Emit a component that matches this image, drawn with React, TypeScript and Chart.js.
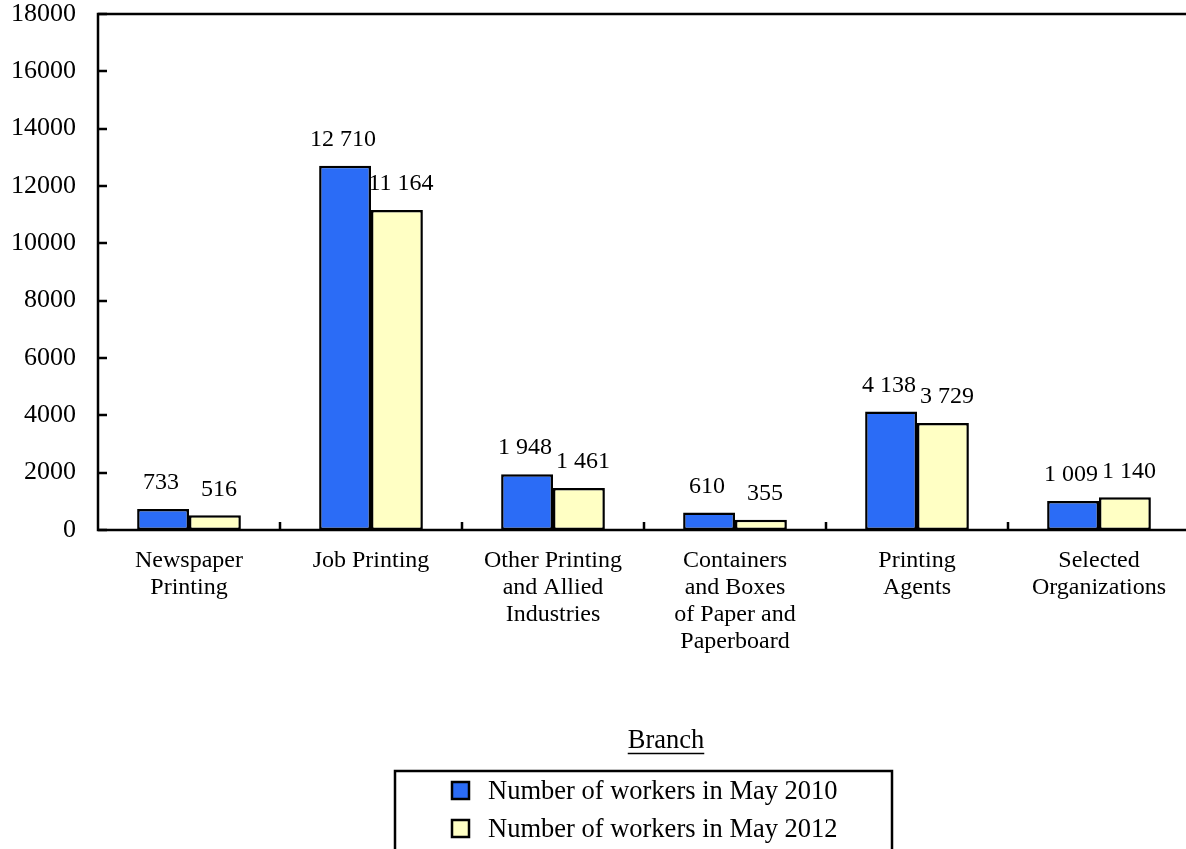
import React, { useEffect, useRef } from "react";
import { Chart, registerables } from "chart.js";

Chart.register(...registerables);

// Branch names (one array entry per line of the axis label)
const branches: string[][] = [
  ["Newspaper", "Printing"],
  ["Job Printing"],
  ["Other Printing", "and Allied", "Industries"],
  ["Containers", "and Boxes", "of Paper and", "Paperboard"],
  ["Printing", "Agents"],
  ["Selected", "Organizations"],
];

const workers2010: number[] = [733, 12710, 1948, 610, 4138, 1009];
const workers2012: number[] = [516, 11164, 1461, 355, 3729, 1140];

const seriesLabels: string[] = [
  "Number of workers in May 2010",
  "Number of workers in May 2012",
];

const legendTitle = "Branch";

const yMin = 0;
const yMax = 18000;
const yStep = 2000;

const BLUE = "#2B6CF6";
const YELLOW = "#FFFFC4";
const FONT = "'Liberation Serif', 'Times New Roman', serif";

const fmt = (v: number) => String(v).replace(/\B(?=(\d{3})+(?!\d))/g, " ");

// Axis decorations, value labels and the boxed legend below the plot
const decorations = {
  id: "decorations",
  afterDatasetsDraw(chart: any) {
    const { ctx, chartArea } = chart;
    const { left, top, bottom } = chartArea;
    const x = chart.scales.x;
    const y = chart.scales.y;
    ctx.save();
    ctx.strokeStyle = "#000";
    ctx.lineWidth = 2.5;
    ctx.lineCap = "square";

    // frame: left axis, top border, baseline
    ctx.beginPath();
    ctx.moveTo(left, bottom);
    ctx.lineTo(left, top);
    ctx.lineTo(chart.width + 10, top);
    ctx.moveTo(left, bottom);
    ctx.lineTo(chart.width + 10, bottom);
    ctx.stroke();

    // inward ticks on the value axis
    ctx.lineCap = "butt";
    ctx.beginPath();
    for (let v = yMin; v <= yMax; v += yStep) {
      const py = Math.round(y.getPixelForValue(v));
      ctx.moveTo(left, py);
      ctx.lineTo(left + 9, py);
    }
    // category boundary ticks
    const n = branches.length;
    for (let i = 1; i < n; i++) {
      const px = Math.round(
        (x.getPixelForValue(i - 1) + x.getPixelForValue(i)) / 2
      );
      ctx.moveTo(px, bottom);
      ctx.lineTo(px, bottom - 8);
    }
    ctx.stroke();

    // value labels above bars
    ctx.fillStyle = "#000";
    ctx.font = `24px ${FONT}`;
    ctx.textAlign = "center";
    ctx.textBaseline = "middle";
    const nudge = [-2, 4];
    chart.data.datasets.forEach((ds: any, di: number) => {
      const meta = chart.getDatasetMeta(di);
      meta.data.forEach((bar: any, i: number) => {
        ctx.fillText(fmt(ds.data[i]), bar.x + nudge[di], bar.y - 26);
      });
    });

    // legend title, underlined
    const cx = 666;
    ctx.font = `26.5px ${FONT}`;
    ctx.fillText(legendTitle, cx, 741);
    const tw = ctx.measureText(legendTitle).width;
    ctx.lineWidth = 1.5;
    ctx.beginPath();
    ctx.moveTo(cx - tw / 2, 753.5);
    ctx.lineTo(cx + tw / 2, 753.5);
    ctx.stroke();

    // legend box
    ctx.lineWidth = 2.5;
    ctx.strokeRect(395, 771, 497, 100);
    const colors = [BLUE, YELLOW];
    ctx.textAlign = "left";
    seriesLabels.forEach((lab, i) => {
      const cy = 790 + i * 38;
      ctx.fillStyle = colors[i];
      ctx.fillRect(452, cy - 8, 17, 17);
      ctx.lineWidth = 2.5;
      ctx.strokeRect(452, cy - 8, 17, 17);
      ctx.fillStyle = "#000";
      ctx.fillText(lab, 488, cy + 2);
    });
    ctx.restore();
  },
};

export default function App() {
  const canvasRef = useRef<HTMLCanvasElement | null>(null);

  useEffect(() => {
    if (!canvasRef.current) return;
    const barStyle = {
      borderColor: "#000",
      borderWidth: 2.5,
      borderSkipped: false,
      categoryPercentage: 0.57,
      barPercentage: 1,
    };
    const chart = new Chart(canvasRef.current, {
      type: "bar",
      data: {
        labels: branches,
        datasets: [
          { label: seriesLabels[0], data: workers2010, backgroundColor: BLUE, ...barStyle },
          { label: seriesLabels[1], data: workers2012, backgroundColor: YELLOW, ...barStyle },
        ],
      },
      options: {
        responsive: false,
        animation: false,
        events: [],
        layout: { padding: { top: 14, left: 0, right: 0, bottom: 0 } },
        plugins: {
          legend: { display: false },
          tooltip: { enabled: false },
        },
        scales: {
          x: {
            grid: { display: false, drawTicks: false },
            border: { display: false },
            ticks: {
              color: "#000",
              padding: 17,
              maxRotation: 0,
              autoSkip: false,
              font: { family: FONT, size: 24, lineHeight: "27px" },
            },
            afterFit(scale: any) {
              scale.height = 849 - 530;
              scale.paddingLeft = 0;
              scale.paddingRight = 0;
            },
          },
          y: {
            min: yMin,
            max: yMax,
            grid: { display: false, drawTicks: false },
            border: { display: false },
            ticks: {
              stepSize: yStep,
              color: "#000",
              padding: 22,
              font: { family: FONT, size: 26 },
              callback: (v: any) => String(v),
            },
            afterFit(scale: any) {
              scale.width = 98;
              scale.paddingTop = 0;
              scale.paddingBottom = 0;
            },
          },
        },
      },
      plugins: [decorations],
    });
    return () => chart.destroy();
  }, []);

  return (
    <div
      style={{
        position: "fixed",
        left: 0,
        top: 0,
        width: 1186,
        height: 849,
        overflow: "hidden",
        background: "#fff",
      }}
    >
      <canvas ref={canvasRef} width={1190} height={849} style={{ display: "block" }} />
    </div>
  );
}
